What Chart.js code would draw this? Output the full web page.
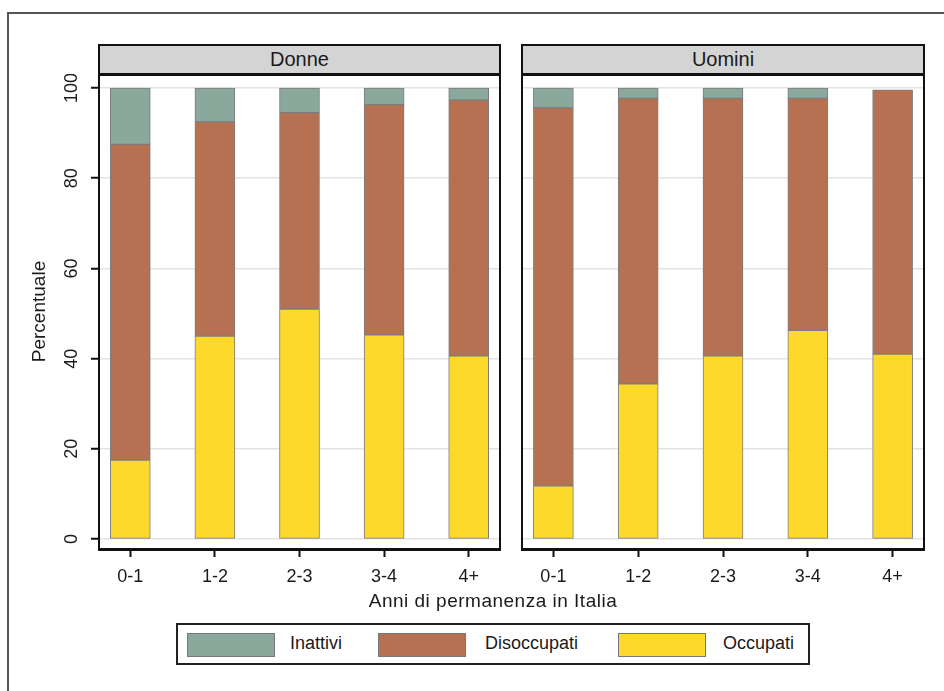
<!DOCTYPE html>
<html>
<head>
<meta charset="utf-8">
<script src="https://cdn.jsdelivr.net/npm/chart.js@4.4.1/dist/chart.umd.min.js"></script>
<style>
  body { margin: 0; background: #fff; font-family: "Liberation Sans", Arial, sans-serif; color: #1a1a1a; }
  #page { position: relative; width: 944px; height: 691px; overflow: hidden; }
  #frame { position: absolute; left: 7px; top: 12px; right: -5px; bottom: -5px;
           border-top: 2px solid #555; border-left: 2px solid #555; }
  .strip { position: absolute; top: 44px; height: 27px; background: #d4d4d4;
           border: 2px solid #111; border-bottom-width: 3px; text-align: center;
           font-size: 20px; line-height: 27px; }
  canvas { position: absolute; }
  #xtitle { position: absolute; left: 0; width: 986px; top: 590px; text-align: center;
            font-size: 19px; letter-spacing: 0.5px; }
  #legend { position: absolute; left: 176px; top: 623px; width: 634px; height: 42px;
            border: 2px solid #222; box-sizing: border-box; }
  .swatch { position: absolute; top: 0; width: 86px; height: 22px; border: 1px solid #777; }
  .label { position: absolute; font-size: 18px; white-space: nowrap; }
</style>
</head>
<body>
<div id="page">
  <div id="frame"></div>
  <div class="strip" id="stripL" style="left:98px; width:399px;"></div>
  <div class="strip" id="stripR" style="left:521px; width:400px;"></div>
  <canvas id="left" width="503" height="520" style="left:0; top:74px;"></canvas>
  <canvas id="right" width="417" height="520" style="left:510px; top:74px;"></canvas>
  <div id="xtitle"></div>
  <div id="legend"></div>
</div>
<script>
const panels = ['Donne', 'Uomini'];
const years = ['0-1', '1-2', '2-3', '3-4', '4+'];
const seriesNames = ['Occupati', 'Disoccupati', 'Inattivi'];
const seriesColors = ['#fdd92c', '#b57152', '#8aa89c'];

// Donne
const occupatiDonne    = [17.5, 45.0, 51.0, 45.3, 40.6];
const disoccupatiDonne = [70.0, 47.5, 43.5, 51.0, 56.7];
const inattiviDonne    = [12.5, 7.5, 5.5, 3.7, 2.7];
// Uomini
const occupatiUomini    = [11.8, 34.4, 40.6, 46.3, 41.0];
const disoccupatiUomini = [83.8, 63.3, 57.1, 51.4, 58.6];
const inattiviUomini    = [4.4, 2.3, 2.3, 2.3, 0];

const yTicks = [0, 20, 40, 60, 80, 100];
const xTitle = 'Anni di permanenza in Italia';
const yTitle = 'Percentuale';

const font = { family: '"Liberation Sans", Arial, sans-serif', size: 18 };

// right edge of each panel (y axis gives the left edge, x axis the bottom)
const panelFrame = {
  id: 'panelFrame',
  afterDraw(chart) {
    const { ctx, chartArea: a } = chart;
    ctx.save();
    ctx.strokeStyle = '#111';
    ctx.lineWidth = 2;
    ctx.beginPath();
    ctx.moveTo(a.right, a.top);
    ctx.lineTo(a.right, a.bottom + 1);
    ctx.stroke();
    ctx.restore();
  }
};

function makePanel(id, series, showY) {
  const datasets = series.map((vals, i) => ({
    label: seriesNames[i],
    data: vals.map((v, j) => ({ x: j, y: v })),
    backgroundColor: seriesColors[i],
    borderColor: '#7d7d7d',
    borderWidth: 1,
    borderSkipped: false,
    barThickness: 40
  }));
  return new Chart(document.getElementById(id), {
    type: 'bar',
    data: { datasets },
    options: {
      responsive: false,
      animation: false,
      layout: { padding: { left: showY ? 28 : 12, right: 3, top: 0, bottom: 0 } },
      plugins: { legend: { display: false }, tooltip: { enabled: false } },
      scales: {
        x: {
          type: 'linear', stacked: true, min: -0.37, max: 4.37, offset: false,
          afterBuildTicks: s => { s.ticks = years.map((_, i) => ({ value: i })); },
          afterFit: s => { s.height = 45; s.paddingLeft = 0; s.paddingRight = 0; },
          grid: { offset: false, drawOnChartArea: false, tickLength: 8, tickColor: '#111', tickWidth: 2 },
          border: { color: '#111', width: 3 },
          ticks: { font, color: '#1a1a1a', padding: 9, maxRotation: 0, autoSkip: false,
                   callback: v => years[v] }
        },
        y: {
          stacked: true, min: -2.2, max: 103.1,
          afterBuildTicks: s => { s.ticks = yTicks.map(v => ({ value: v })); },
          afterFit: s => { s.width = showY ? 71 : 0; s.paddingTop = 0; s.paddingBottom = 0; },
          grid: { color: '#e3e3e3', lineWidth: 1.5, drawTicks: showY, tickLength: 8,
                  tickColor: '#111', tickWidth: 2 },
          border: { color: '#111', width: 2 },
          ticks: { display: showY, font, color: '#1a1a1a', minRotation: 90, maxRotation: 90,
                   crossAlign: 'center', padding: 4 },
          title: { display: showY, text: yTitle, font: { ...font, size: 19 }, color: '#1a1a1a',
                   padding: { top: 0, bottom: 0 } }
        }
      }
    },
    plugins: [panelFrame]
  });
}

makePanel('left', [occupatiDonne, disoccupatiDonne, inattiviDonne], true);
makePanel('right', [occupatiUomini, disoccupatiUomini, inattiviUomini], false);

document.getElementById('stripL').textContent = panels[0];
document.getElementById('stripR').textContent = panels[1];
document.getElementById('xtitle').textContent = xTitle;

// legend: Inattivi, Disoccupati, Occupati (top of stack first)
const legend = document.getElementById('legend');
const swatchX = [9, 200, 440];
const labelX = [112, 307, 545];
[2, 1, 0].forEach((k, n) => {
  const sw = document.createElement('div');
  sw.className = 'swatch';
  sw.style.left = swatchX[n] + 'px';
  sw.style.top = '8px';
  sw.style.background = seriesColors[k];
  legend.appendChild(sw);
  const lb = document.createElement('div');
  lb.className = 'label';
  lb.style.left = labelX[n] + 'px';
  lb.style.top = '8px';
  lb.textContent = seriesNames[k];
  legend.appendChild(lb);
});
</script>
</body>
</html>
